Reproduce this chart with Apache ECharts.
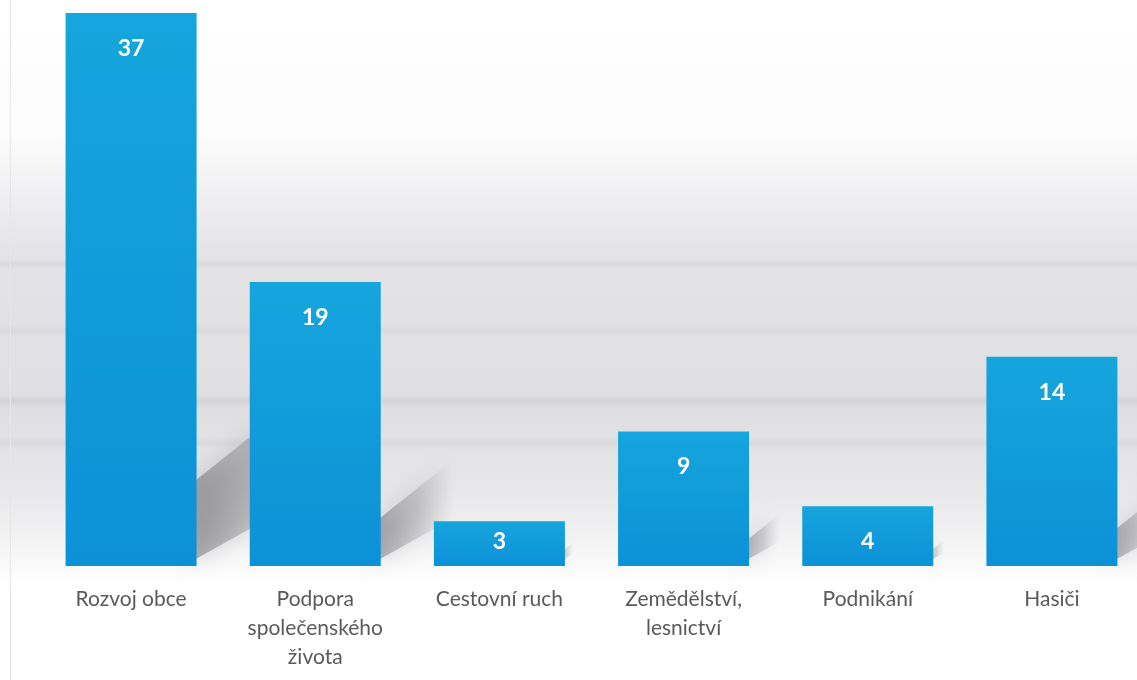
<!DOCTYPE html>
<html>
<head>
<meta charset="utf-8">
<script src="https://cdn.jsdelivr.net/npm/echarts@6/dist/echarts.min.js"></script>
<style>
html,body{margin:0;padding:0;background:#fff;overflow:hidden;}
#chart{width:1150px;height:680px;}
</style>
</head>
<body>
<div id="chart"></div>
<script>
const categories = ['Rozvoj obce', 'Podpora\nspolečenského\nživota', 'Cestovní ruch', 'Zemědělství,\nlesnictví', 'Podnikání', 'Hasiči'];
const values = [37, 19, 3, 9, 4, 14];

const chart = echarts.init(document.getElementById('chart'), null, {renderer: 'canvas'});

const barHalf = 65.5;

function streak(y, h, a) {
  return {type: 'rect', z: -9, silent: true, shape: {x: 0, y: y, width: 1150, height: h},
    style: {fill: new echarts.graphic.LinearGradient(0, 0, 0, 1, [
      {offset: 0, color: 'rgba(150,150,158,0)'},
      {offset: 0.5, color: 'rgba(150,150,158,' + a + ')'},
      {offset: 1, color: 'rgba(150,150,158,0)'}
    ])}};
}

const option = {
  animation: false,
  backgroundColor: '#ffffff',
  graphic: {
    elements: [
      {
        type: 'rect', z: -10, silent: true,
        shape: {x: 0, y: 0, width: 1150, height: 680},
        style: {
          fill: new echarts.graphic.LinearGradient(0, 0, 0, 1, [
            {offset: 0, color: '#ffffff'},
            {offset: 0.2, color: '#fcfcfc'},
            {offset: 0.29, color: '#efeff1'},
            {offset: 0.37, color: '#e4e4e7'},
            {offset: 0.6, color: '#dfdfe2'},
            {offset: 0.72, color: '#e7e7e9'},
            {offset: 0.8, color: '#f4f4f5'},
            {offset: 0.86, color: '#ffffff'},
            {offset: 1, color: '#ffffff'}
          ])
        }
      },
      streak(258, 12, 0.12),
      streak(325, 12, 0.1),
      streak(394, 14, 0.16),
      streak(437, 12, 0.1),
      {type: 'line', z: -9, silent: true, shape: {x1: 10.5, y1: 0, x2: 10.5, y2: 680}, style: {stroke: '#e6e6e6', lineWidth: 1}}
    ]
  },
  grid: {left: 39, top: 13, width: 1105, bottom: 114, containLabel: false},
  xAxis: {
    type: 'category',
    data: categories,
    axisLine: {show: false},
    axisTick: {show: false},
    splitLine: {show: false},
    axisLabel: {
      interval: 0,
      margin: 19,
      color: '#5a5a5a',
      fontFamily: 'Lato',
      fontSize: 21,
      lineHeight: 29
    }
  },
  yAxis: {
    type: 'value',
    min: 0,
    max: 37,
    show: false,
    splitLine: {show: false}
  },
  series: [
    {
      type: 'custom',
      z: 1,
      silent: true,
      data: values.map((v, i) => [i, v]),
      renderItem: function (params, api) {
        const i = api.value(0);
        const v = api.value(1);
        const base = api.coord([i, 0]);
        const top = api.coord([i, v]);
        const h = base[1] - top[1];
        const xr = base[0] + barHalf - 6;
        const y0 = base[1] - 4;
        const t = Math.max(8, 0.14 * h);
        const L = Math.max(14, 0.28 * h);
        const k = 0.8;
        return {
          type: 'polygon',
          shape: {points: [
            [xr, y0],
            [xr, y0 - t],
            [xr + L, y0 - t - k * L],
            [xr + L, y0 - k * L * 0.7]
          ]},
          style: {
            fill: new echarts.graphic.LinearGradient(0, 0, 1, 0, [
              {offset: 0, color: 'rgba(85,85,90,0.45)'},
              {offset: 0.55, color: 'rgba(120,120,125,0.25)'},
              {offset: 1, color: 'rgba(170,170,175,0)'}
            ]),
            shadowBlur: 24,
            shadowColor: 'rgba(95,95,100,0.6)'
          }
        };
      }
    },
    {
      type: 'bar',
      z: 2,
      barWidth: 131,
      data: values.map((v, i) => ({
        value: v,
        label: {distance: v < 4 ? 9 : 24}
      })),
      itemStyle: {
        color: new echarts.graphic.LinearGradient(0, 0, 0, 1, [
          {offset: 0, color: '#16a5dd'},
          {offset: 1, color: '#0c91d7'}
        ])
      },
      label: {
        show: true,
        position: 'insideTop',
        color: '#ffffff',
        fontFamily: 'Lato',
        fontWeight: 'bold',
        fontSize: 23
      }
    }
  ]
};

chart.setOption(option);
</script>
</body>
</html>
